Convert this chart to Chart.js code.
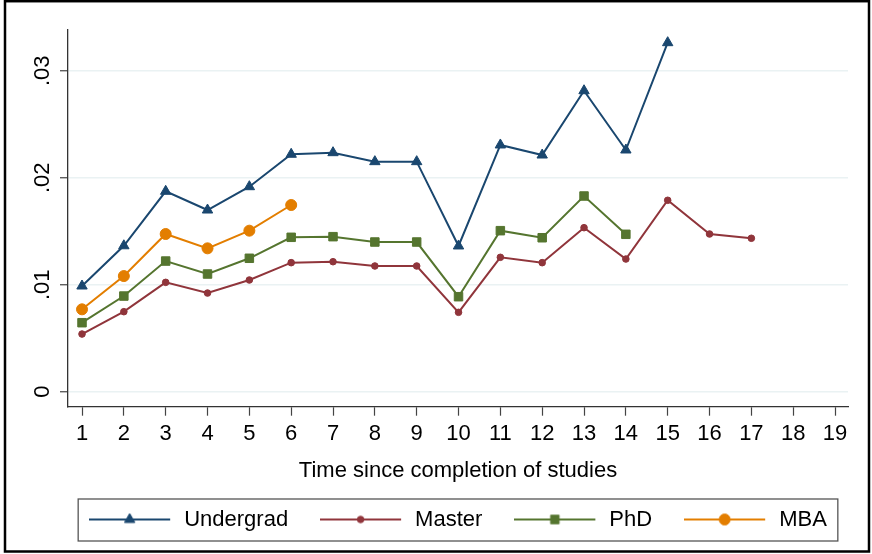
<!DOCTYPE html>
<html>
<head>
<meta charset="utf-8">
<script src="https://cdn.jsdelivr.net/npm/chart.js@4/dist/chart.umd.min.js"></script>
<style>
html,body{margin:0;padding:0;background:#fff;}
canvas{display:block;}
</style>
</head>
<body>
<canvas id="c" width="872" height="554"></canvas>
<script>
// ---- data ----
const years = [1,2,3,4,5,6,7,8,9,10,11,12,13,14,15,16,17,18,19];
const xTickLabels = ["1","2","3","4","5","6","7","8","9","10","11","12","13","14","15","16","17","18","19"];
const yTickValues = [0, 0.01, 0.02, 0.03];
const yTickLabels = ["0", ".01", ".02", ".03"];
const seriesNames = ["Undergrad", "Master", "PhD", "MBA"];
const undergrad = [0.00988,0.01364,0.01873,0.01698,0.01916,0.02219,0.02234,0.02150,0.02150,0.01362,0.02306,0.02212,0.02813,0.02259,0.03262];
const master = [0.00539,0.00748,0.01022,0.00922,0.01044,0.01206,0.01215,0.01175,0.01175,0.00742,0.01256,0.01206,0.01533,0.01240,0.01789,0.01474,0.01434];
const phd = [0.00645,0.00894,0.01221,0.01100,0.01247,0.01443,0.01449,0.01399,0.01399,0.00888,0.01505,0.01439,0.01829,0.01471];
const mba = [0.00770,0.01081,0.01474,0.01340,0.01505,0.01745];
const xAxisTitle = "Time since completion of studies";

// ---- styles ----
const FONT = '"Liberation Sans", Arial, sans-serif';
const colors = ["#1a476f", "#90353b", "#55752f", "#e37e00"];
const styles = ["triangle", "circle", "rect", "circle"];
const radii = [6, 3.3, 6, 5.5];
const allSeries = [undergrad, master, phd, mba];

function toPoints(vals){ return vals.map((v,i)=>({x: years[i], y: v})); }

function legendImage(i){
  const c = document.createElement('canvas');
  c.width = 84; c.height = 16;
  const g = c.getContext('2d');
  g.strokeStyle = colors[i]; g.lineWidth = 2;
  g.beginPath(); g.moveTo(0, 8); g.lineTo(81, 8); g.stroke();
  g.fillStyle = colors[i]; g.strokeStyle = colors[i]; g.lineWidth = 1;
  Chart.helpers.drawPoint(g, {pointStyle: styles[i], radius: radii[i], rotation: 0, borderWidth: 1}, 40.5, 8);
  return c;
}

const framePlugin = {
  id: 'frame',
  beforeDraw(chart){
    const ctx = chart.ctx;
    ctx.save();
    ctx.fillStyle = '#fff';
    ctx.fillRect(0, 0, chart.width, chart.height);
    ctx.restore();
  },
  afterDraw(chart){
    const ctx = chart.ctx;
    ctx.save();
    const lg = chart.legend;
    if (lg && lg.legendHitBoxes && lg.legendHitBoxes.length){
      const hb = lg.legendHitBoxes;
      const l = hb[0].left - 11;
      const last = hb[hb.length-1];
      const r = last.left + last.width + 11;
      ctx.strokeStyle = '#555';
      ctx.lineWidth = 1.3;
      ctx.strokeRect(l, lg.top + 22.5, r - l, lg.bottom - lg.top - 22);
    }
    ctx.strokeStyle = '#000';
    ctx.lineWidth = 2.5;
    ctx.strokeRect(5, 1.2, 864, 550.3);
    ctx.restore();
  }
};

const datasets = allSeries.map((vals, i) => ({
  label: seriesNames[i],
  data: toPoints(vals),
  borderColor: colors[i],
  backgroundColor: colors[i],
  borderWidth: 2,
  pointStyle: styles[i],
  pointRadius: radii[i],
  pointBorderWidth: 1,
  pointBackgroundColor: colors[i],
  pointBorderColor: colors[i],
  tension: 0,
  fill: false
}));

new Chart(document.getElementById('c'), {
  type: 'line',
  data: { datasets },
  options: {
    responsive: false,
    animation: false,
    devicePixelRatio: 1,
    layout: { padding: { top: 29.3, right: -44, bottom: 13.5, left: 0 } },
    plugins: {
      tooltip: { enabled: false },
      legend: {
        position: 'bottom',
        fullSize: true,
        labels: {
          usePointStyle: true,
          pointStyleWidth: 84,
          padding: 32,
          color: '#000',
          font: { family: FONT, size: 22 },
          generateLabels(chart){
            return chart.data.datasets.map((ds, i) => ({
              text: ds.label,
              fillStyle: colors[i],
              strokeStyle: colors[i],
              lineWidth: 0,
              pointStyle: legendImage(i),
              hidden: false,
              datasetIndex: i,
              fontColor: '#000'
            }));
          }
        }
      }
    },
    scales: {
      x: {
        type: 'linear',
        min: 0.665,
        max: 19.31,
        afterBuildTicks(scale){ scale.ticks = years.map(v => ({value: v})); },
        afterFit(scale){ scale.height = 69.8; },
        grid: { drawOnChartArea: false, drawTicks: true, tickLength: 9, tickColor: '#444', tickWidth: 1.2 },
        border: { display: true, color: '#333', width: 1.3 },
        ticks: {
          autoSkip: false, maxRotation: 0, minRotation: 0, padding: 5,
          color: '#000', font: { family: FONT, size: 22 },
          callback(value){ const k = years.indexOf(value); return k >= 0 ? xTickLabels[k] : ''; }
        },
        title: {
          display: true, text: xAxisTitle, color: '#000',
          font: { family: FONT, size: 22, lineHeight: 1.2 },
          padding: { top: 0, bottom: -7.7 }
        }
      },
      y: {
        type: 'linear',
        min: -0.0014,
        max: 0.03387,
        afterBuildTicks(scale){ scale.ticks = yTickValues.map(v => ({value: v})); },
        afterFit(scale){ scale.width = 68; },
        grid: { color: '#eaf2f3', lineWidth: 1.5, drawTicks: true, tickLength: 8, tickColor: '#444', tickWidth: 1.2 },
        border: { display: true, color: '#333', width: 1.3 },
        ticks: {
          autoSkip: false, minRotation: 90, maxRotation: 90, crossAlign: 'center', padding: 2,
          color: '#000', font: { family: FONT, size: 22 },
          callback(value){ const k = yTickValues.indexOf(value); return k >= 0 ? yTickLabels[k] : ''; }
        }
      },
      yRightSpace: {
        type: 'linear',
        position: 'right',
        display: true,
        grid: { display: false, drawTicks: false },
        border: { display: false },
        ticks: { display: false },
        afterFit(scale){ scale.width = 68; }
      }
    }
  },
  plugins: [framePlugin]
});
</script>
</body>
</html>
